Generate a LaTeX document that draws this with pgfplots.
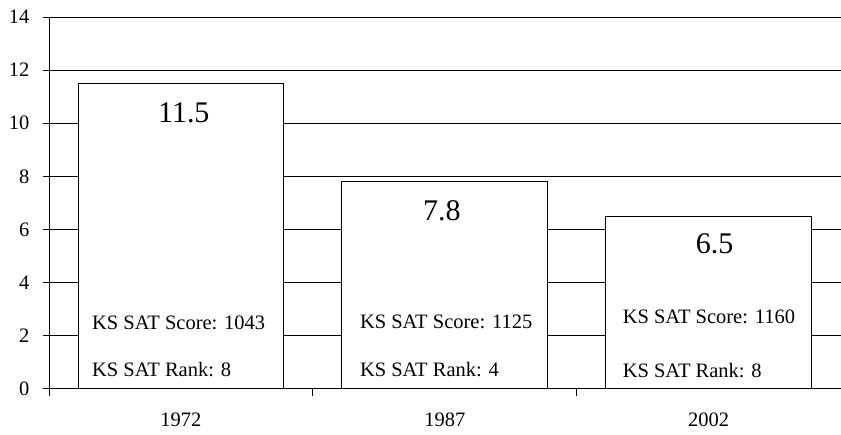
\documentclass[border=0pt]{standalone}
\usepackage{pgfplots}
\pgfplotsset{compat=1.18}
\usepackage{fontspec}
\setmainfont{Liberation Serif}
\pgfplotsset{every tick label/.append style={font=\fontsize{20.5}{24}\selectfont}}
\begin{document}
\begin{tikzpicture}
\begin{axis}[
  /pgf/number format/assume math mode=true,
  /pgfplots/scale only axis, width=792pt, height=372pt,
  xmin=-0.5, xmax=2.5, ymin=0, ymax=14,
  axis x line=bottom, axis y line=left,
  axis line style={-, black, line width=0.9pt},
  xtick={0,1,2}, xticklabels={1972,1987,2002},
  major x tick style={draw=none},
  minor xtick={-0.5,0.5,1.5},
  minor x tick style={black, line width=0.9pt},
  minor tick length=7pt,
  xtick align=outside,
  ytick={0,2,...,14},
  ytick align=outside,
  major tick length=6pt,
  y tick style={black, line width=0.9pt},
  ymajorgrids,
  major grid style={black, line width=0.9pt},
  xticklabel style={yshift=-15pt},
  yticklabel style={xshift=-10pt},
  clip=false,
]
\addplot[ybar, bar width=0.78, fill=white, draw=black, line width=0.9pt]
  coordinates {(0,11.5) (1,7.8) (2,6.5)};

\node[font=\fontsize{30}{34}\selectfont] at (axis cs:0.011,10.38) {11.5};
\node[font=\fontsize{30}{34}\selectfont] at (axis cs:0.989,6.72) {7.8};
\node[font=\fontsize{30}{34}\selectfont] at (axis cs:2.023,5.47) {6.5};

\node[anchor=west, inner sep=0pt, font=\fontsize{20.5}{24}\selectfont] at (axis cs:-0.337,2.49) {KS SAT Score: 1043};
\node[anchor=west, inner sep=0pt, font=\fontsize{20.5}{24}\selectfont] at (axis cs:-0.337,0.72) {KS SAT Rank: 8};
\node[anchor=west, inner sep=0pt, font=\fontsize{20.5}{24}\selectfont] at (axis cs:0.678,2.53) {KS SAT Score: 1125};
\node[anchor=west, inner sep=0pt, font=\fontsize{20.5}{24}\selectfont] at (axis cs:0.678,0.72) {KS SAT Rank: 4};
\node[anchor=west, inner sep=0pt, font=\fontsize{20.5}{24}\selectfont] at (axis cs:1.674,2.72) {KS SAT Score: 1160};
\node[anchor=west, inner sep=0pt, font=\fontsize{20.5}{24}\selectfont] at (axis cs:1.674,0.68) {KS SAT Rank: 8};
\end{axis}
\path (current axis.south west) ++(-49pt,-46pt) coordinate (A);
\path (current axis.north east) ++(0pt,17pt) coordinate (B);
\path (A) rectangle (B);
\end{tikzpicture}
\end{document}
